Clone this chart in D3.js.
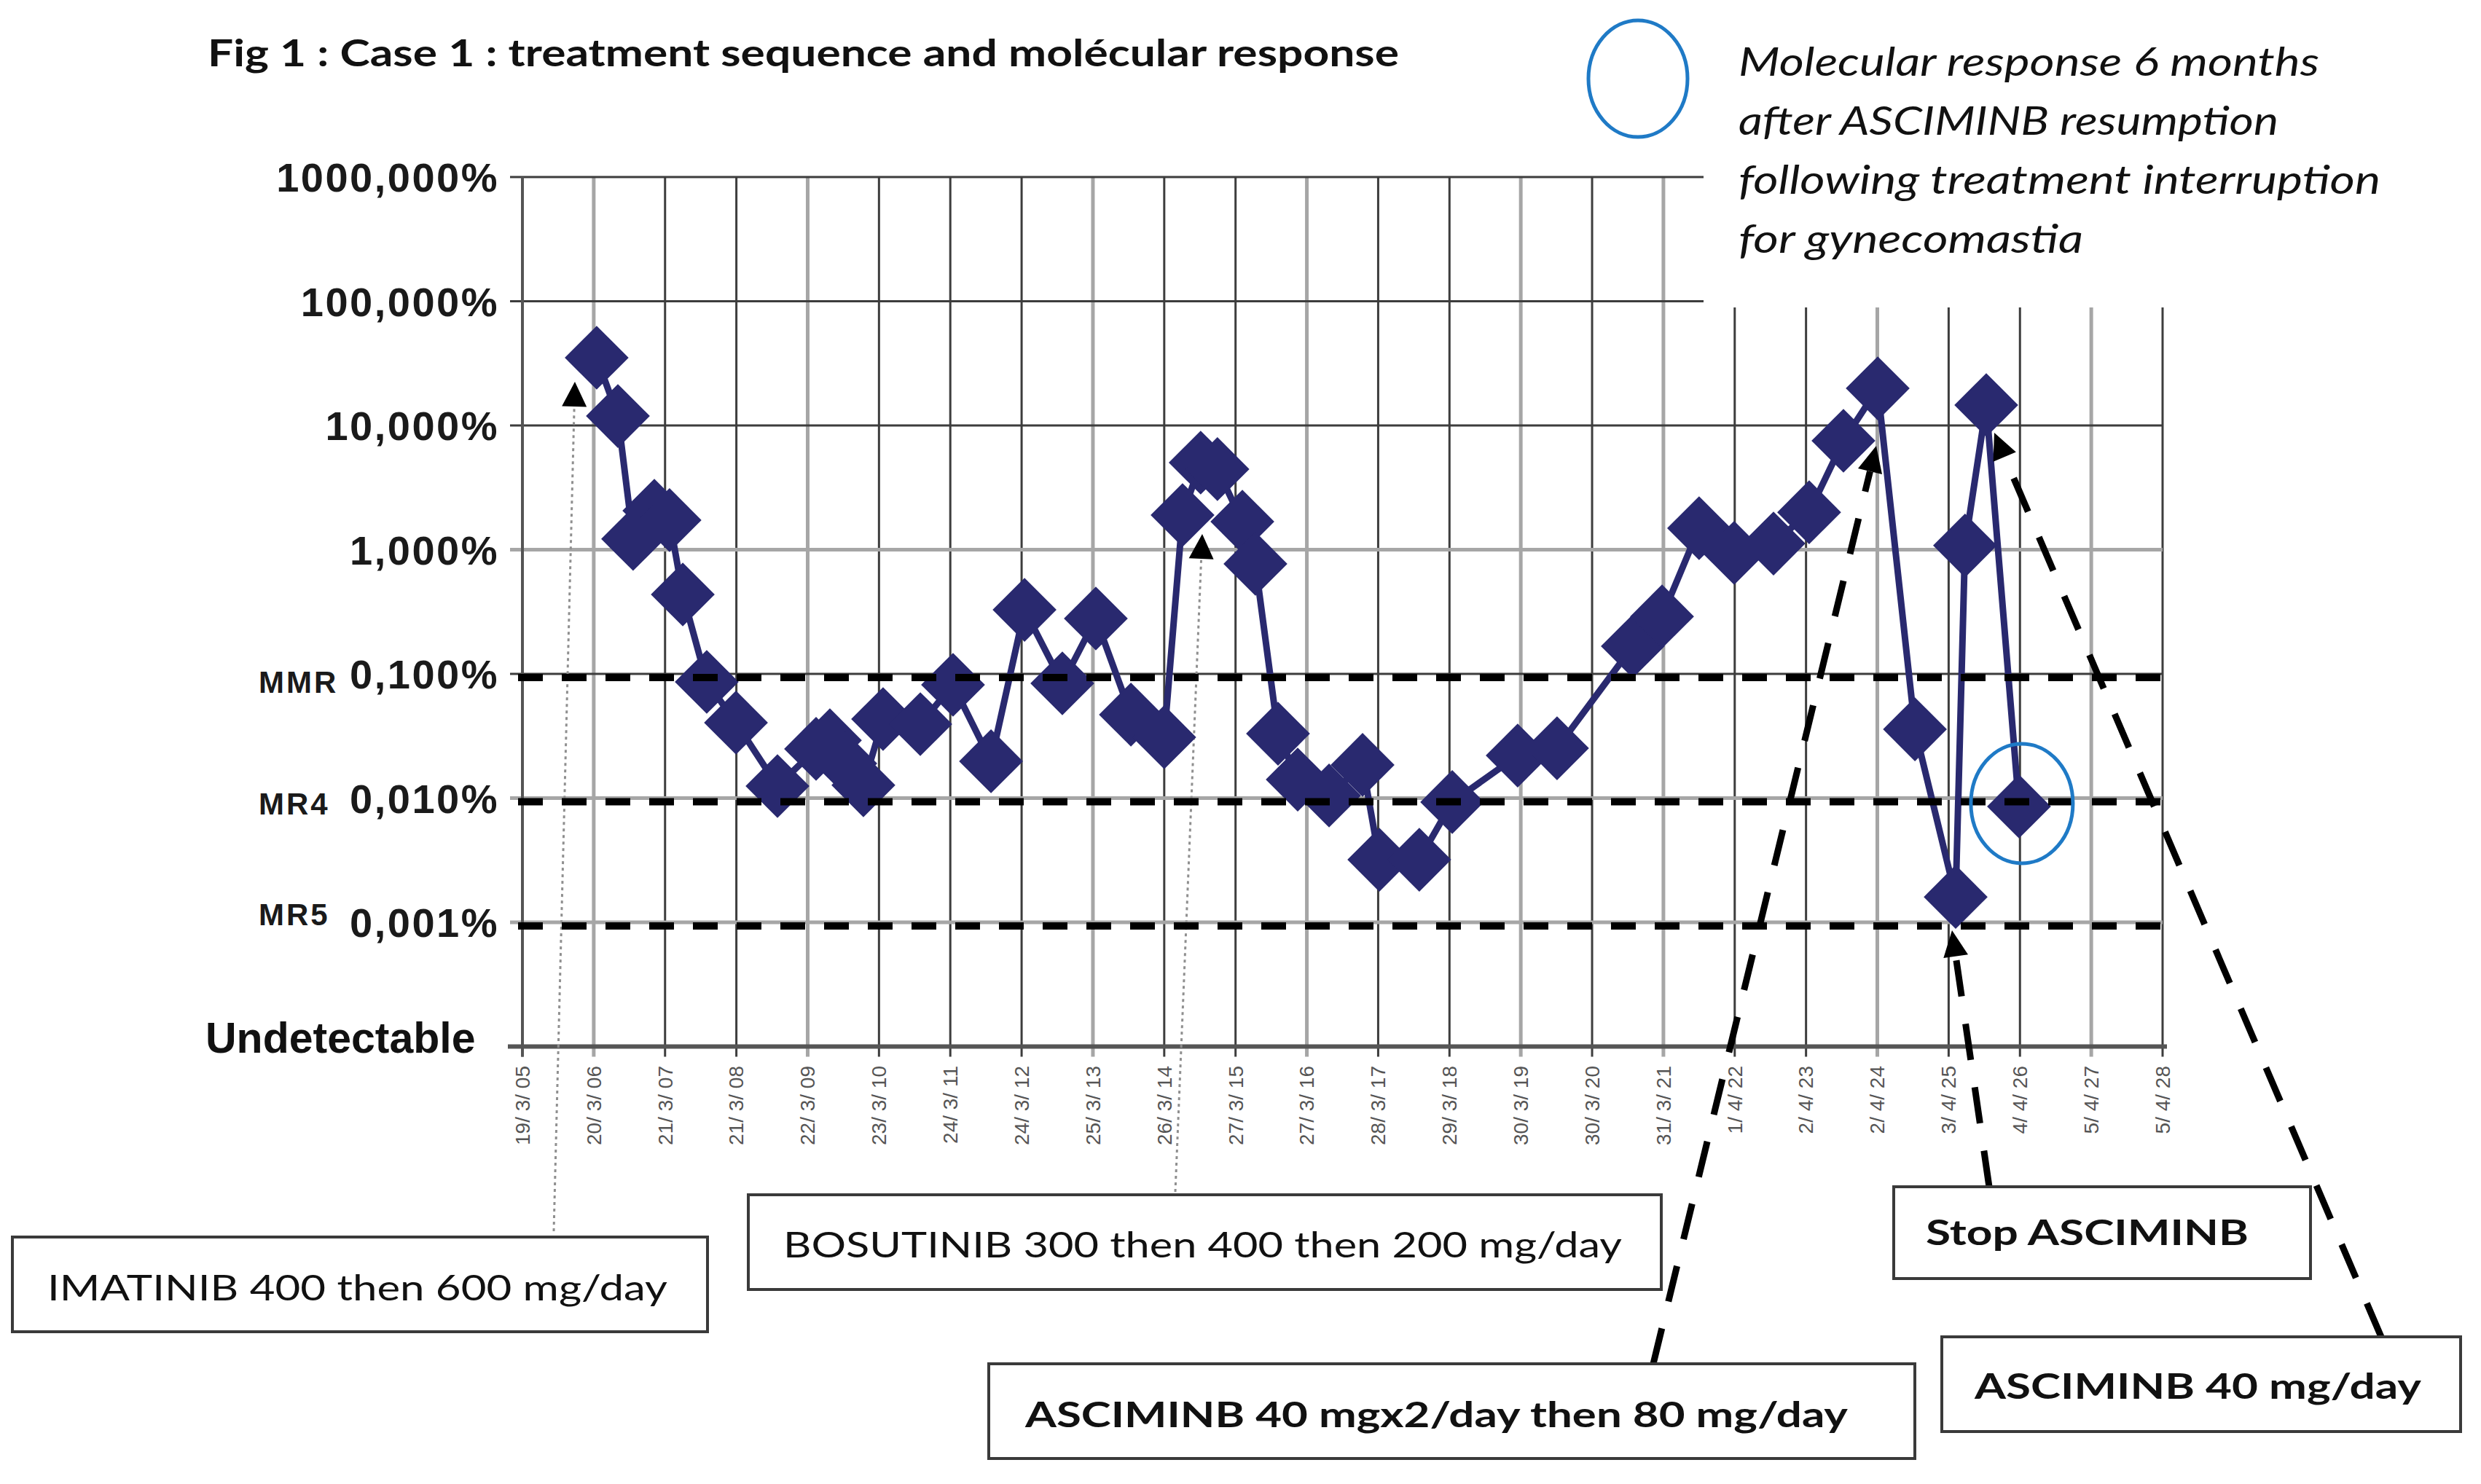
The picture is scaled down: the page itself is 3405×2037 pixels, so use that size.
<!DOCTYPE html>
<html>
<head>
<meta charset="utf-8">
<script src="https://cdn.jsdelivr.net/npm/d3@7"></script>
<style>
  html, body { margin: 0; padding: 0; background: #fff; }
  svg { display: block; }
</style>
</head>
<body>
<svg id="chart"></svg>
<script>
// ---- data ----
const xTickLabels = ["19/ 3/ 05", "20/ 3/ 06", "21/ 3/ 07", "21/ 3/ 08", "22/ 3/ 09", "23/ 3/ 10",
  "24/ 3/ 11", "24/ 3/ 12", "25/ 3/ 13", "26/ 3/ 14", "27/ 3/ 15", "27/ 3/ 16", "28/ 3/ 17",
  "29/ 3/ 18", "30/ 3/ 19", "30/ 3/ 20", "31/ 3/ 21", "1/ 4/ 22", "2/ 4/ 23", "2/ 4/ 24",
  "3/ 4/ 25", "4/ 4/ 26", "5/ 4/ 27", "5/ 4/ 28"]

const yTickValues = [1000, 100, 10, 1, 0.1, 0.01, 0.001]
const yTickLabels = ["1000,000%", "100,000%", "10,000%", "1,000%", "0,100%", "0,010%", "0,001%"]

const levelNames = ["MMR", "MR4", "MR5"]
const levelValues = [0.1, 0.01, 0.001]

const sampleDates = [
  "2006-04-04", "2006-07-22", "2006-10-08", "2007-01-25", "2007-04-13", "2007-06-20", "2007-10-21",
  "2008-03-19", "2008-10-18", "2009-05-04", "2009-07-14", "2009-10-01", "2010-01-02", "2010-04-13",
  "2010-10-21", "2011-04-07", "2011-10-19", "2012-04-08", "2012-10-19", "2013-04-09", "2013-10-06",
  "2014-03-26", "2014-06-28", "2014-09-29", "2014-12-24", "2015-05-01", "2015-07-07", "2015-10-31",
  "2016-02-09", "2016-07-19", "2017-01-07", "2017-04-03", "2017-10-25", "2018-04-12", "2019-03-14",
  "2019-10-02", "2020-10-25", "2021-03-24", "2021-09-30", "2022-03-29", "2022-10-17", "2023-04-18",
  "2023-10-11", "2024-04-04", "2024-10-12", "2025-05-09", "2025-06-26", "2025-10-13", "2026-03-30"]

// BCR-ABL ratio, % (IS)
const bcrAblPct = [
  35.1, 11.9, 1.22, 2.06, 1.73, 0.436, 0.0862,
  0.0405, 0.0125, 0.0249, 0.0292, 0.0190, 0.0127, 0.0433,
  0.0394, 0.0817, 0.0198, 0.328, 0.0839, 0.279, 0.0470,
  0.0309, 1.90, 5.02, 4.45, 1.68, 0.769, 0.0330,
  0.0141, 0.0105, 0.0185, 0.00319, 0.00319, 0.00929, 0.0220,
  0.0252, 0.167, 0.290, 1.49, 0.942, 1.12, 2.00,
  7.53, 19.9, 0.0358, 0.00160, 1.08, 14.6, 0.00857]

const noteLines = ["Molecular response 6 months", "after ASCIMINB resumption",
  "following treatment interruption", "for gynecomastia"]

// ---- layout ----
const W = 3405, H = 2037
const plot = {left: 717, right: 2968, top: 243, bottom: 1436.5}
const navy = "#29296f"
const blue = "#1f7ac6"

// gridlines that come out soft/grey in the original rendering
const softGridX = [1, 4, 8, 11, 14, 16, 19, 22]
const softGridY = [1, 0.01, 0.001]

const svg = d3.select("#chart")
  .attr("width", W).attr("height", H)
  .attr("viewBox", `0 0 ${W} ${H}`)
  .style("font-family", "'Liberation Sans', Arial, sans-serif")

svg.append("rect").attr("width", W).attr("height", H).attr("fill", "#fff")

const parseTick = d3.timeParse("%d/%m/%y")
const tickDates = xTickLabels.map(s => parseTick(s.replace(/\s/g, "")))
const parseDay = d3.timeParse("%Y-%m-%d")
const series = sampleDates.map((d, i) => ({date: parseDay(d), value: bcrAblPct[i]}))

const x = d3.scaleTime()
  .domain([tickDates[0], tickDates[tickDates.length - 1]])
  .range([plot.left, plot.right])

const y = d3.scaleLog()
  .domain([0.0001, 1000])
  .range([plot.bottom, plot.top])

// ---- grid ----
const grid = svg.append("g")

grid.selectAll(".vgrid")
  .data(tickDates)
  .enter().append("line")
  .attr("x1", d => x(d)).attr("x2", d => x(d))
  .attr("y1", plot.top).attr("y2", plot.bottom + 14)
  .attr("stroke", (d, i) => softGridX.includes(i) ? "#a6a6a6" : "#3d3d3d")
  .attr("stroke-width", (d, i) => softGridX.includes(i) ? 5 : 3)

grid.selectAll(".hgrid")
  .data(yTickValues)
  .enter().append("line")
  .attr("x1", plot.left - 17).attr("x2", plot.right)
  .attr("y1", d => y(d)).attr("y2", d => y(d))
  .attr("stroke", d => softGridY.includes(d) ? "#a6a6a6" : "#3d3d3d")
  .attr("stroke-width", d => softGridY.includes(d) ? 5 : 3)

// white text box of the note hides the top right corner of the grid
svg.append("rect")
  .attr("x", 2338).attr("y", 0)
  .attr("width", W - 2338).attr("height", 422)
  .attr("fill", "#fff")

// axes
svg.append("line")
  .attr("x1", plot.left).attr("x2", plot.left)
  .attr("y1", plot.top).attr("y2", plot.bottom + 14)
  .attr("stroke", "#555").attr("stroke-width", 4)
svg.append("line")
  .attr("x1", plot.left - 20).attr("x2", plot.right + 6)
  .attr("y1", plot.bottom).attr("y2", plot.bottom)
  .attr("stroke", "#555").attr("stroke-width", 6)

// y tick labels
svg.append("g").selectAll("text")
  .data(yTickValues)
  .enter().append("text")
  .attr("x", 685)
  .attr("y", d => y(d))
  .attr("dy", 20)
  .attr("text-anchor", "end")
  .attr("font-size", 56)
  .attr("font-weight", "bold")
  .attr("letter-spacing", 2.5)
  .attr("fill", "#1a1a1a")
  .text((d, i) => yTickLabels[i])

const levelOffsets = [26, 22, 4]
svg.append("g").selectAll("text")
  .data(levelValues)
  .enter().append("text")
  .attr("x", 355)
  .attr("y", (d, i) => y(d) + levelOffsets[i])
  .attr("font-size", 42)
  .attr("font-weight", "bold")
  .attr("letter-spacing", 3)
  .attr("fill", "#1a1a1a")
  .text((d, i) => levelNames[i])

svg.append("text")
  .attr("x", 282).attr("y", 1445)
  .attr("font-size", 59)
  .attr("font-weight", "bold")
  .attr("fill", "#111")
  .text("Undetectable")

// x tick labels, rotated
svg.append("g").selectAll("text")
  .data(tickDates)
  .enter().append("text")
  .attr("transform", d => `translate(${x(d)},1463) rotate(-90)`)
  .attr("text-anchor", "end")
  .attr("dy", "0.35em")
  .attr("font-size", 28)
  .attr("fill", "#555")
  .text((d, i) => xTickLabels[i])

// ---- thin dotted guides for imatinib / bosutinib ----
function arrowHead(g, from, tip, len, half) {
  const dx = tip[0] - from[0], dy = tip[1] - from[1]
  const L = Math.hypot(dx, dy)
  const ux = dx / L, uy = dy / L
  const bx = tip[0] - ux * len, by = tip[1] - uy * len
  g.append("path")
    .attr("d", `M${tip[0]},${tip[1]}L${bx - uy * half},${by + ux * half}L${bx + uy * half},${by - ux * half}Z`)
    .attr("fill", "#000")
  return [bx, by]
}

const guides = svg.append("g")
const dottedGuides = [
  {from: [760, 1690], tip: [789, 524]},
  {from: [1613, 1636], tip: [1650, 733]}
]
dottedGuides.forEach(g => {
  const base = arrowHead(guides, g.from, g.tip, 34, 17)
  guides.append("line")
    .attr("x1", g.from[0]).attr("y1", g.from[1])
    .attr("x2", base[0]).attr("y2", base[1])
    .attr("stroke", "#8f8f8f").attr("stroke-width", 3)
    .attr("stroke-dasharray", "4 5")
})

// ---- series ----
const line = d3.line()
  .x(d => x(d.date))
  .y(d => y(d.value))

svg.append("path")
  .datum(series)
  .attr("d", line)
  .attr("fill", "none")
  .attr("stroke", navy)
  .attr("stroke-width", 9)
  .attr("stroke-linejoin", "round")

svg.append("g").selectAll("path")
  .data(series)
  .enter().append("path")
  .attr("d", d3.symbol().type(d3.symbolSquare).size(62 * 62))
  .attr("transform", d => `translate(${x(d.date)},${y(d.value)}) rotate(45)`)
  .attr("fill", navy)

// ---- molecular response thresholds ----
svg.append("g").selectAll("line")
  .data(levelValues)
  .enter().append("line")
  .attr("x1", plot.left - 6).attr("x2", plot.right + 8)
  .attr("y1", d => y(d) + 5).attr("y2", d => y(d) + 5)
  .attr("stroke", "#000")
  .attr("stroke-width", 10)
  .attr("stroke-dasharray", "34 26")

// ---- thick dashed pointers for asciminib ----
const dashedGuides = [
  {from: [2269, 1872], tip: [2575, 612]},
  {from: [2730, 1629], tip: [2679, 1277]},
  {from: [3268, 1835], tip: [2737, 594]}
]
const pointers = svg.append("g")
dashedGuides.forEach(g => {
  const base = arrowHead(pointers, g.from, g.tip, 36, 17)
  pointers.append("line")
    .attr("x1", g.from[0]).attr("y1", g.from[1])
    .attr("x2", base[0]).attr("y2", base[1])
    .attr("stroke", "#000").attr("stroke-width", 9)
    .attr("stroke-dasharray", "50 38")
})

// circle on the last sample
const last = series[series.length - 1]
svg.append("ellipse")
  .attr("cx", x(last.date) + 4).attr("cy", y(last.value) - 4)
  .attr("rx", 70).attr("ry", 82)
  .attr("fill", "none").attr("stroke", blue).attr("stroke-width", 5)

// ---- title and note ----
svg.append("text")
  .attr("x", 285).attr("y", 91)
  .attr("font-family", "Lato, 'Open Sans', sans-serif")
  .attr("font-size", 51)
  .attr("font-weight", "bold")
  .attr("textLength", 1635)
  .attr("lengthAdjust", "spacingAndGlyphs")
  .attr("fill", "#111")
  .text("Fig 1 : Case 1 : treatment sequence and molécular response")

svg.append("ellipse")
  .attr("cx", 2248).attr("cy", 108)
  .attr("rx", 68).attr("ry", 80)
  .attr("fill", "none").attr("stroke", blue).attr("stroke-width", 5)

const noteWidths = [797, 741, 881, 473]
svg.append("g").selectAll("text")
  .data(noteLines)
  .enter().append("text")
  .attr("x", 2386)
  .attr("y", (d, i) => 104 + i * 81)
  .attr("font-family", "Lato, 'Open Sans', sans-serif")
  .attr("font-style", "italic")
  .attr("font-size", 54)
  .attr("textLength", (d, i) => noteWidths[i])
  .attr("lengthAdjust", "spacingAndGlyphs")
  .attr("fill", "#111")
  .text(d => d)

// ---- treatment boxes ----
const boxes = [
  {text: "IMATINIB 400 then 600 mg/day", bold: false, x0: 17, y0: 1698, x1: 971, y1: 1828, tx: 65, ty: 1785, tw: 851},
  {text: "BOSUTINIB 300 then 400 then 200 mg/day", bold: false, x0: 1027, y0: 1640, x1: 2280, y1: 1770, tx: 1075, ty: 1726, tw: 1151},
  {text: "ASCIMINB 40 mgx2/day then 80 mg/day", bold: true, x0: 1357, y0: 1872, x1: 2628, y1: 2002, tx: 1407, ty: 1959, tw: 1129},
  {text: "Stop ASCIMINB", bold: true, x0: 2599, y0: 1629, x1: 3171, y1: 1755, tx: 2643, ty: 1709, tw: 443},
  {text: "ASCIMINB 40 mg/day", bold: true, x0: 2665, y0: 1835, x1: 3377, y1: 1965, tx: 2710, ty: 1920, tw: 613}
]

const boxG = svg.append("g").selectAll("g")
  .data(boxes)
  .enter().append("g")

boxG.append("rect")
  .attr("x", d => d.x0).attr("y", d => d.y0)
  .attr("width", d => d.x1 - d.x0).attr("height", d => d.y1 - d.y0)
  .attr("fill", "#fff")
  .attr("stroke", "#3a3a3a")
  .attr("stroke-width", 4)

boxG.append("text")
  .attr("x", d => d.tx).attr("y", d => d.ty)
  .attr("font-family", "Lato, 'Open Sans', sans-serif")
  .attr("font-size", 48)
  .attr("font-weight", d => d.bold ? "bold" : "normal")
  .attr("textLength", d => d.tw)
  .attr("lengthAdjust", "spacingAndGlyphs")
  .attr("fill", "#111")
  .text(d => d.text)
</script>
</body>
</html>
